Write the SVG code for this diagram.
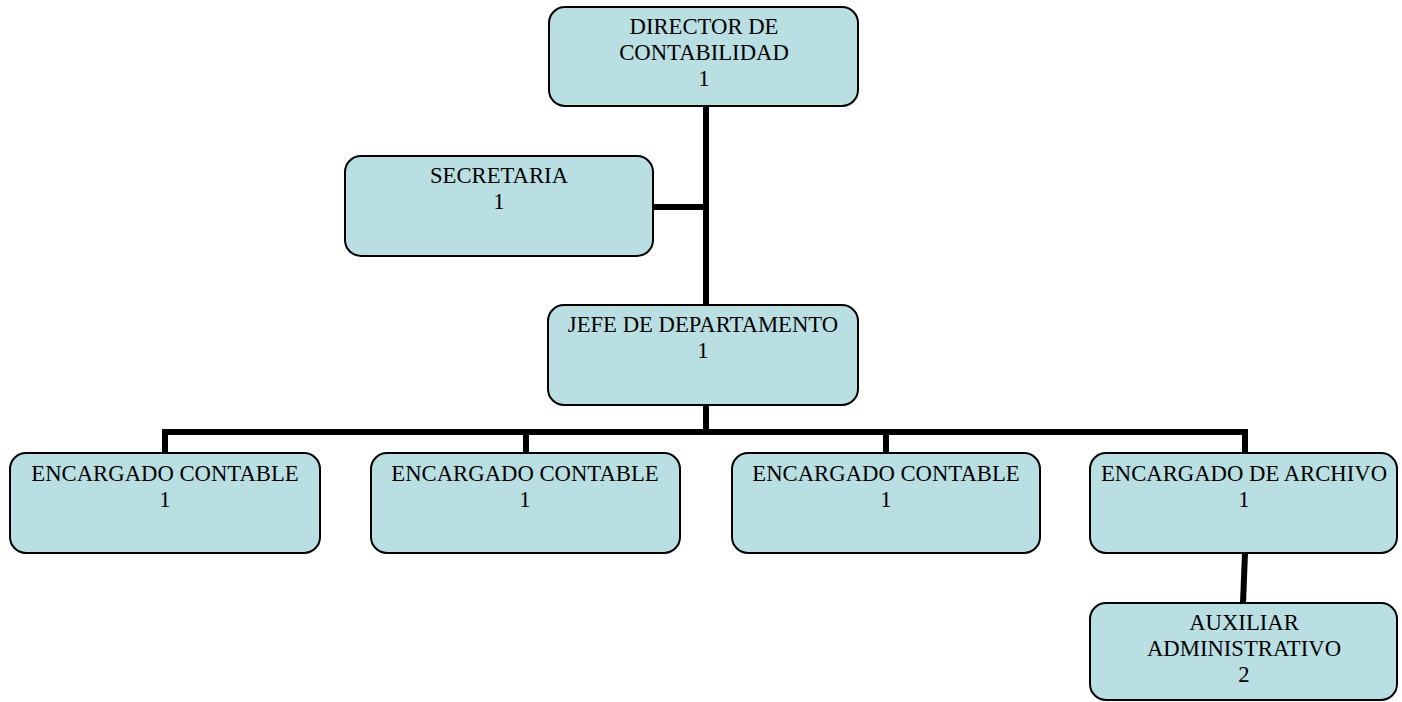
<svg xmlns="http://www.w3.org/2000/svg" width="1402" height="702" viewBox="0 0 1402 702">
<style>
.box{fill:#b9dfe3;stroke:#000;stroke-width:2}
.t{font-family:"Liberation Serif","Times New Roman",serif;font-size:22.7px;fill:#000;text-anchor:middle}
.c{stroke:#000;stroke-width:6;fill:none}
</style>
<rect width="1402" height="702" fill="#fff"/>
<g id="connectors">
<path class="c" d="M706 106V305"/>
<path class="c" d="M653 207H706"/>
<path class="c" d="M706 405V432"/>
<path class="c" d="M165 453V432H1245V453"/>
<path class="c" d="M526 432V453"/>
<path class="c" d="M886 432V453"/>
<path class="c" d="M1245 553L1243 603"/>
</g>
<g id="director">
<rect class="box" x="549" y="7" width="309" height="99" rx="16"/>
<text class="t" x="704" y="34">DIRECTOR DE</text>
<text class="t" x="704" y="60">CONTABILIDAD</text>
<text class="t" x="704" y="86">1</text>
</g>
<g id="secretaria">
<rect class="box" x="345" y="156" width="308" height="100" rx="16"/>
<text class="t" x="499" y="183">SECRETARIA</text>
<text class="t" x="499" y="209">1</text>
</g>
<g id="jefe">
<rect class="box" x="548" y="305" width="310" height="100" rx="16"/>
<text class="t" x="703" y="332">JEFE DE DEPARTAMENTO</text>
<text class="t" x="703" y="358">1</text>
</g>
<g id="contable1">
<rect class="box" x="10" y="453" width="310" height="100" rx="16"/>
<text class="t" x="165" y="481">ENCARGADO CONTABLE</text>
<text class="t" x="165" y="507">1</text>
</g>
<g id="contable2">
<rect class="box" x="371" y="453" width="309" height="100" rx="16"/>
<text class="t" x="525" y="481">ENCARGADO CONTABLE</text>
<text class="t" x="525" y="507">1</text>
</g>
<g id="contable3">
<rect class="box" x="732" y="453" width="308" height="100" rx="16"/>
<text class="t" x="886" y="481">ENCARGADO CONTABLE</text>
<text class="t" x="886" y="507">1</text>
</g>
<g id="archivo">
<rect class="box" x="1090" y="453" width="307" height="100" rx="16"/>
<text class="t" x="1244" y="481">ENCARGADO DE ARCHIVO</text>
<text class="t" x="1244" y="507">1</text>
</g>
<g id="auxiliar">
<rect class="box" x="1090" y="603" width="307" height="97" rx="16"/>
<text class="t" x="1244" y="630">AUXILIAR</text>
<text class="t" x="1244" y="656">ADMINISTRATIVO</text>
<text class="t" x="1244" y="682">2</text>
</g>
</svg>
